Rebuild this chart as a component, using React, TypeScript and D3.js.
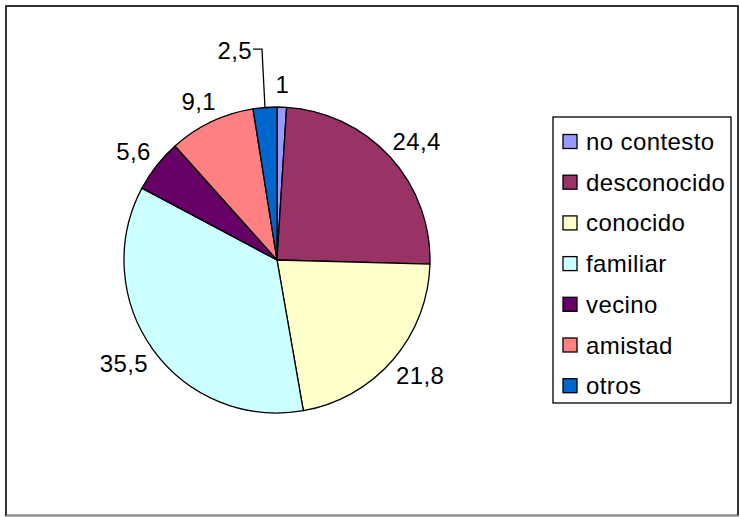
import React from 'react';
import * as d3 from 'd3';

const categories = ['no contesto', 'desconocido', 'conocido', 'familiar', 'vecino', 'amistad', 'otros'];
const values = [1, 24.4, 21.8, 35.5, 5.6, 9.1, 2.5];
const valueLabels = ['1', '24,4', '21,8', '35,5', '5,6', '9,1', '2,5'];
const colors = ['#9999FF', '#993366', '#FFFFCC', '#CCFFFF', '#660066', '#FF8080', '#0066CC'];

const W = 740;
const H = 517;
const CX = 277;
const CY = 260;
const R = 153;
const FONT = '"Liberation Sans", Arial, sans-serif';
const FS = 24;
const LS = 0.4;

function measure(t: string): number {
  try {
    const ctx = document.createElement('canvas').getContext('2d');
    if (ctx) {
      ctx.font = `${FS}px ${FONT}`;
      return ctx.measureText(t).width + LS * t.length;
    }
  } catch (e) {}
  return t.length * FS * 0.5;
}

type Box = { x0: number; x1: number; y0: number; y1: number };
type Lab = { x: number; y: number; text: string; box: Box; leader: [number, number][] | null };

export default function App() {
  const pie = d3.pie<number>().sort(null).value((d) => d).startAngle(0).endAngle(2 * Math.PI);
  const arcs = pie(values);
  const arcGen = d3.arc<d3.PieArcDatum<number>>().innerRadius(0).outerRadius(R);

  const labels: Lab[] = [];
  const hh = 11;
  const overlap = (a: Box, b: Box) => a.x0 < b.x1 && a.x1 > b.x0 && a.y0 < b.y1 && a.y1 > b.y0;
  arcs.forEach((a, i) => {
    const mid = (a.startAngle + a.endAngle) / 2;
    const s = Math.sin(mid);
    const c = Math.cos(mid);
    const text = valueLabels[i];
    const hw = measure(text) / 2;
    const Rl = R + 12;
    let x = CX + Rl * s + hw * s;
    let y = CY - Rl * c - hh * c;
    let box: Box = { x0: x - hw, x1: x + hw, y0: y - hh, y1: y + hh };
    let leader: [number, number][] | null = null;
    const conflicts = labels.filter((l) => overlap(box, l.box));
    if (conflicts.length) {
      const margin = 12;
      if (c > 0) {
        y = Math.min(...conflicts.map((l) => l.box.y0)) - margin - hh;
      } else {
        y = Math.max(...conflicts.map((l) => l.box.y1)) + margin + hh;
      }
      const R2 = (CY - y) / c;
      const kx = CX + R2 * s + 1.5 * Math.sign(-s || 1);
      const dir = s < 0 ? -1 : 1;
      x = kx + dir * (hw + 10);
      box = { x0: x - hw, x1: x + hw, y0: y - hh, y1: y + hh };
      const ly = y - 1;
      leader = [
        [x - dir * (hw + 1) * -1 * -1 + (dir < 0 ? 2 * hw + 2 - 2 * hw : 0), ly],
      ];
      const startX = dir < 0 ? x + hw + 1 : x - hw - 1;
      leader = [
        [startX, ly],
        [kx, ly],
        [CX + R * s, CY - R * c],
      ];
    }
    labels.push({ x, y, text, box, leader });
  });

  const legX = 553;
  const legY = 117;
  const legW = 178;
  const legH = 286;
  const rowH = 40.7;
  const firstRow = legY + 24.5;

  return (
    <svg
      width={W}
      height={H}
      style={{ position: 'fixed', left: 0, top: 0, background: '#fff' }}
      fontFamily={FONT}
    >
      <rect x={0} y={0} width={W} height={H} fill="#fff" />
      <rect x={6} y={6} width={732} height={509.5} fill="none" stroke="#000" strokeWidth={1.6} />
      <line x1={6} x2={738.8} y1={515.5} y2={515.5} stroke="#888" strokeWidth={1.2} />
      <g transform={`translate(${CX},${CY})`}>
        {arcs.map((a, i) => (
          <path key={i} d={arcGen(a) || ''} fill={colors[i]} stroke="#000" strokeWidth={1.3} strokeLinejoin="round" />
        ))}
      </g>
      {labels.map((l, i) => (
        <g key={i}>
          {l.leader && (
            <polyline
              points={l.leader.map((p) => p.join(',')).join(' ')}
              fill="none"
              stroke="#000"
              strokeWidth={1.3}
            />
          )}
          <text x={l.x} y={l.y} dy="0.36em" textAnchor="middle" fontSize={FS} letterSpacing={LS} fill="#000">
            {l.text}
          </text>
        </g>
      ))}
      <rect x={legX} y={legY} width={legW} height={legH} fill="#fff" stroke="#000" strokeWidth={1.3} />
      {categories.map((cat, i) => {
        const cy = firstRow + i * rowH;
        return (
          <g key={cat}>
            <rect x={563} y={cy - 7} width={14} height={14} fill={colors[i]} stroke="#000" strokeWidth={1.3} />
            <text x={586} y={cy + 8.5} fontSize={FS} letterSpacing={LS} fill="#000">
              {cat}
            </text>
          </g>
        );
      })}
    </svg>
  );
}
